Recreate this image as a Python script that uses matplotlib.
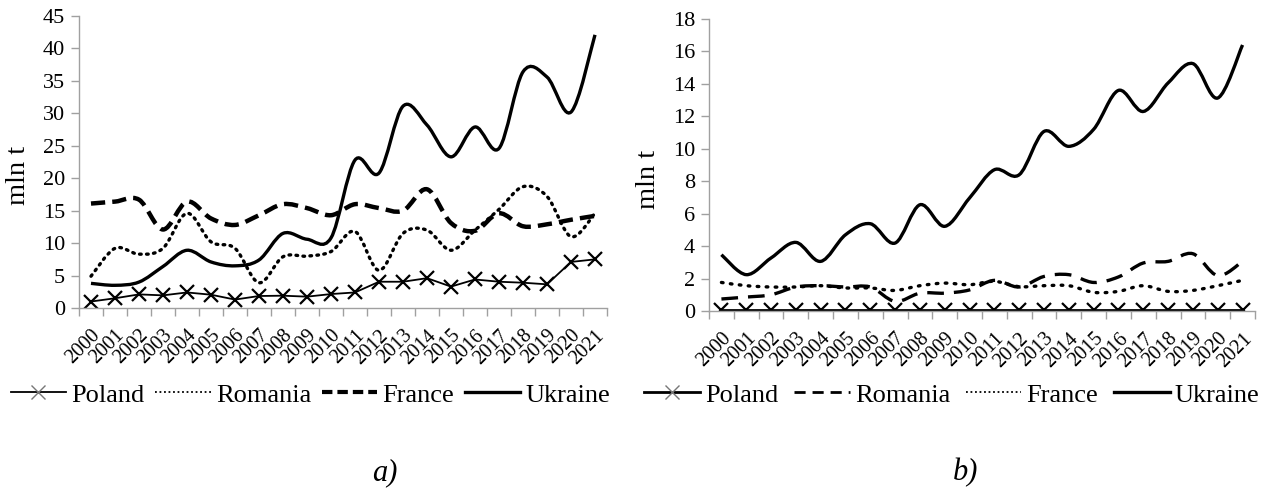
import numpy as np
import matplotlib
matplotlib.use("Agg")
import matplotlib.pyplot as plt
from matplotlib.path import Path
from matplotlib.patches import PathPatch
from matplotlib.lines import Line2D

plt.rcParams['font.family'] = ['Liberation Serif', 'DejaVu Serif']

years = [str(y) for y in range(2000, 2022)]

# a) values, mln t
poland_a = [1.0, 1.5, 2.1, 1.95, 2.4, 2.05, 1.3, 1.85, 1.9, 1.75, 2.15,
            2.4, 4.05, 4.05, 4.6, 3.3, 4.4, 4.05, 3.9, 3.65, 7.1, 7.5]
romania_a = [4.9, 9.2, 8.3, 9.2, 14.6, 10.2, 9.2, 3.9, 7.9, 8.0, 8.7,
             11.8, 5.8, 11.5, 12.0, 8.9, 12.0, 15.2, 18.7, 17.2, 11.0, 14.6]
france_a = [16.1, 16.4, 16.7, 12.1, 16.4, 13.8, 12.8, 14.3, 16.0, 15.4, 14.3,
            16.0, 15.4, 15.0, 18.3, 13.1, 11.9, 14.6, 12.6, 12.9, 13.6, 14.2]
ukraine_a = [3.8, 3.5, 4.0, 6.4, 8.9, 7.1, 6.5, 7.4, 11.5, 10.6, 10.8,
             22.8, 20.8, 31.1, 28.2, 23.3, 27.9, 24.6, 36.4, 35.6, 30.2, 42.1]

# b) values, mln t
poland_b = [0.05] * 22
romania_b = [0.74, 0.86, 1.0, 1.48, 1.56, 1.48, 1.48, 0.59, 1.1, 1.1, 1.3,
             1.89, 1.48, 2.13, 2.24, 1.76, 2.1, 2.96, 3.06, 3.53, 2.18, 3.06]
france_b = [1.76, 1.56, 1.48, 1.48, 1.56, 1.42, 1.42, 1.27, 1.56, 1.72, 1.62,
            1.83, 1.5, 1.56, 1.56, 1.15, 1.21, 1.56, 1.21, 1.27, 1.56, 1.89]
ukraine_b = [3.47, 2.24, 3.27, 4.23, 3.06, 4.7, 5.38, 4.19, 6.55, 5.22, 6.97,
             8.71, 8.4, 11.07, 10.15, 11.2, 13.6, 12.3, 14.06, 15.25, 13.13, 16.4]


def smooth_line(ax, ys, **kw):
    # smoothed line like in the spreadsheet: cubic bezier through the points
    x = np.arange(len(ys), dtype=float)
    y = np.asarray(ys, dtype=float)
    n = len(x)
    verts = [(x[0], y[0])]
    codes = [Path.MOVETO]
    for i in range(n - 1):
        i0 = max(i - 1, 0)
        i3 = min(i + 2, n - 1)
        c1 = (x[i] + (x[i + 1] - x[i0]) / 6, y[i] + (y[i + 1] - y[i0]) / 6)
        c2 = (x[i + 1] - (x[i3] - x[i]) / 6, y[i + 1] - (y[i3] - y[i]) / 6)
        verts += [c1, c2, (x[i + 1], y[i + 1])]
        codes += [Path.CURVE4] * 3
    patch = PathPatch(Path(verts, codes), fill=False, **kw)
    ax.add_patch(patch)


def style_axes(ax, ymax, ystep):
    ax.set_xlim(-0.5, 21.5)
    ax.set_ylim(0, ymax)
    ax.set_yticks(np.arange(0, ymax + 0.1, ystep))
    ax.set_xticks(range(22))
    ax.set_xticklabels(years, rotation=45, ha='right', va='top',
                       rotation_mode='anchor', fontsize=14.5)
    ax.set_xticks(np.arange(-0.5, 22, 1), minor=True)
    ax.tick_params(axis='x', which='major', length=0, pad=13)
    ax.tick_params(axis='x', which='minor', length=6, color='#a0a0a0', width=1)
    ax.tick_params(axis='y', length=6, color='#a0a0a0', width=1, labelsize=16, pad=4)
    for s in ['top', 'right']:
        ax.spines[s].set_visible(False)
    for s in ['left', 'bottom']:
        ax.spines[s].set_color('#a0a0a0')
        ax.spines[s].set_linewidth(1)
    ax.set_ylabel('mln t', fontsize=20.5)


fig = plt.figure(figsize=(12.72, 4.9), dpi=100)
ax1 = fig.add_axes([0.0621, 0.3714, 0.4151, 0.5959])
ax2 = fig.add_axes([0.5574, 0.3653, 0.4292, 0.5959])

# a)
ax1.plot(range(22), poland_a, color='black', lw=1.3, marker='x', ms=10, mew=1.6)
smooth_line(ax1, romania_a, color='black', lw=2.4, ls=(0, (0.5, 1.6)), capstyle='round')
smooth_line(ax1, france_a, color='black', lw=3.2, ls=(0, (3.2, 1.6)))
smooth_line(ax1, ukraine_a, color='black', lw=2.4)
style_axes(ax1, 45, 5)
ax1.yaxis.set_label_coords(-0.09, 0.455)

# b)
ax2.plot(range(22), poland_b, color='black', lw=2.0, marker='x', ms=10, mew=1.6)
smooth_line(ax2, romania_b, color='black', lw=2.4, ls=(0, (5, 3)))
smooth_line(ax2, france_b, color='black', lw=2.4, ls=(0, (0.5, 2.2)), capstyle='round')
smooth_line(ax2, ukraine_b, color='black', lw=2.4)
style_axes(ax2, 18, 2)
ax2.yaxis.set_label_coords(-0.088, 0.449)

leg_a = [Line2D([], [], color='black', lw=1.3, marker='x', ms=10, mec='#777777', mew=1.0),
         Line2D([], [], color='black', lw=1.3, ls=(0, (1, 1.5))),
         Line2D([], [], color='black', lw=3.0, ls=(0, (2.5, 1.2))),
         Line2D([], [], color='black', lw=2.4)]
leg_b = [Line2D([], [], color='black', lw=2.0, marker='x', ms=10, mec='#777777', mew=1.0),
         Line2D([], [], color='black', lw=2.0, ls=(0, (4, 2.5))),
         Line2D([], [], color='black', lw=1.3, ls=(0, (1, 1.5))),
         Line2D([], [], color='black', lw=2.4)]
names = ['Poland', 'Romania', 'France', 'Ukraine']

fig.legend(leg_a, names, loc='center', bbox_to_anchor=(0.244, 0.194), ncol=4,
           frameon=False, fontsize=19, handlelength=2.1, handletextpad=0.2,
           columnspacing=0.4, borderpad=0)
fig.legend(leg_b, names, loc='center', bbox_to_anchor=(0.7484, 0.194), ncol=4,
           frameon=False, fontsize=19, handlelength=2.1, handletextpad=0.2,
           columnspacing=0.6, borderpad=0)

fig.text(0.3027, 0.035, 'a)', style='italic', fontsize=22, ha='center', va='center')
fig.text(0.7587, 0.035, 'b)', style='italic', fontsize=22, ha='center', va='center')

fig.savefig('out.png', dpi=100)
